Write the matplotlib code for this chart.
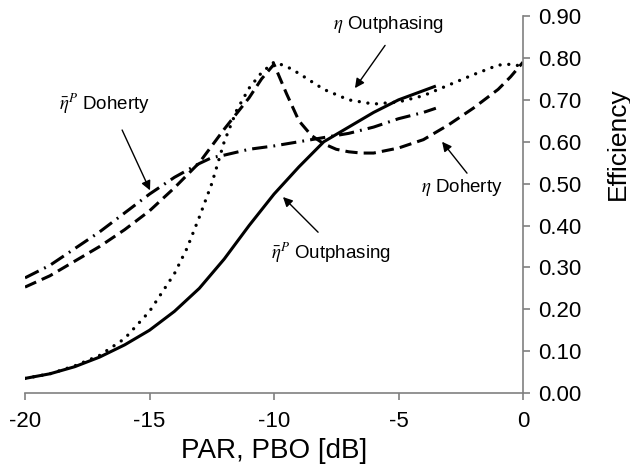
import matplotlib
matplotlib.use("Agg")
import matplotlib.pyplot as plt
from matplotlib.ticker import FormatStrFormatter

plt.rcParams['font.family'] = ['Liberation Sans', 'DejaVu Sans']
plt.rcParams['mathtext.fontset'] = 'stix'
plt.rcParams['axes.unicode_minus'] = False

# average efficiency, outphasing (solid)
x_avg_out = [-20, -19, -18, -17, -16, -15, -14, -13, -12, -11, -10, -9, -8, -7, -6, -5, -4, -3.5]
y_avg_out = [0.035, 0.046, 0.063, 0.086, 0.115, 0.15, 0.195, 0.25, 0.32, 0.40, 0.475, 0.54, 0.60, 0.635, 0.67, 0.70, 0.722, 0.733]

# instantaneous efficiency, outphasing (dotted)
x_eta_out = [-20, -19, -18, -17, -16, -15, -14.5, -14, -13.5, -13, -12.5, -12, -11.5, -11, -10.5, -10,
             -9.5, -9, -8, -7, -6, -5, -4, -3, -2, -1, -0.5, 0]
y_eta_out = [0.035, 0.046, 0.065, 0.09, 0.13, 0.195, 0.24, 0.285, 0.345, 0.42, 0.50, 0.60, 0.675, 0.728, 0.765, 0.79,
             0.78, 0.763, 0.725, 0.70, 0.69, 0.695, 0.71, 0.735, 0.76, 0.783, 0.785, 0.78]

# instantaneous efficiency, Doherty (dashed)
x_eta_doh = [-20, -19, -18, -17, -16, -15, -14, -13, -12, -11, -10.5, -10, -9.5, -9, -8.5, -8, -7.5, -7,
             -6.5, -6, -5, -4, -3, -2, -1, -0.5, 0]
y_eta_doh = [0.253, 0.28, 0.315, 0.35, 0.39, 0.435, 0.49, 0.55, 0.63, 0.705, 0.75, 0.785, 0.715, 0.65, 0.615,
             0.595, 0.582, 0.576, 0.573, 0.573, 0.585, 0.605, 0.64, 0.68, 0.725, 0.755, 0.79]

# average efficiency, Doherty (dash-dot)
x_avg_doh = [-20, -19, -18, -17, -16, -15, -14, -13, -12.5, -12, -11, -10, -9, -8, -7, -6, -5, -4, -3.5]
y_avg_doh = [0.275, 0.305, 0.345, 0.385, 0.43, 0.475, 0.515, 0.548, 0.562, 0.568, 0.582, 0.59, 0.60, 0.61,
             0.62, 0.635, 0.655, 0.67, 0.68]

x_ticks = [-20, -15, -10, -5, 0]
y_ticks = [0.0, 0.1, 0.2, 0.3, 0.4, 0.5, 0.6, 0.7, 0.8, 0.9]

fig = plt.figure(figsize=(6.3, 4.73), dpi=100)
ax = fig.add_axes([0.0397, 0.169, 0.7905, 0.797])

lw = 2.2
ax.plot(x_avg_out, y_avg_out, color='black', lw=lw, solid_capstyle='butt')
ax.plot(x_eta_out, y_eta_out, color='black', lw=2.4, linestyle=(0, (0.01, 2.6)), dash_capstyle='round')
ax.plot(x_eta_doh, y_eta_doh, color='black', lw=lw, linestyle=(0, (4, 2)), dash_capstyle='butt')
ax.plot(x_avg_doh, y_avg_doh, color='black', lw=lw, linestyle=(0, (5, 2, 0.6, 2)), dash_capstyle='butt')

ax.set_xlim(-20, 0)
ax.set_ylim(0, 0.9)
ax.set_xticks(x_ticks)
ax.set_yticks(y_ticks)
ax.yaxis.set_major_formatter(FormatStrFormatter('%.2f'))
ax.yaxis.tick_right()

for s in ['left', 'top']:
    ax.spines[s].set_visible(False)
for s in ['right', 'bottom']:
    ax.spines[s].set_color('#808080')
    ax.spines[s].set_linewidth(1.2)
ax.tick_params(axis='both', direction='out', length=5, width=1.2, color='#808080', labelsize=16)
ax.tick_params(axis='x', pad=8)
ax.tick_params(axis='y', pad=6)

ax.set_xlabel('PAR, PBO [dB]', fontsize=20, labelpad=4)
fig.text(618 / 630, 1 - 144 / 473, 'Efficiency', fontsize=19, rotation=90, ha='center', va='center')

arrow = dict(arrowstyle='-|>', color='black', lw=1.0, mutation_scale=14, shrinkA=0, shrinkB=0)
fs = 13.5
ax.annotate('', xy=(-14.98, 0.484), xytext=(-16.1, 0.628), arrowprops=arrow)
ax.text(-16.79, 0.69, r'$\bar{\eta}^{P}$ Doherty', fontsize=fs, ha='center', va='center')

ax.annotate('', xy=(-6.75, 0.728), xytext=(-5.54, 0.83), arrowprops=arrow)
ax.text(-5.42, 0.88, r'$\eta$ Outphasing', fontsize=fs, ha='center', va='center')

ax.annotate('', xy=(-3.25, 0.60), xytext=(-2.25, 0.525), arrowprops=arrow)
ax.text(-2.45, 0.49, r'$\eta$ Doherty', fontsize=fs, ha='center', va='center')

ax.annotate('', xy=(-9.64, 0.468), xytext=(-8.23, 0.384), arrowprops=arrow)
ax.text(-7.71, 0.335, r'$\bar{\eta}^{P}$ Outphasing', fontsize=fs, ha='center', va='center')

fig.savefig('out.png', dpi=100)
